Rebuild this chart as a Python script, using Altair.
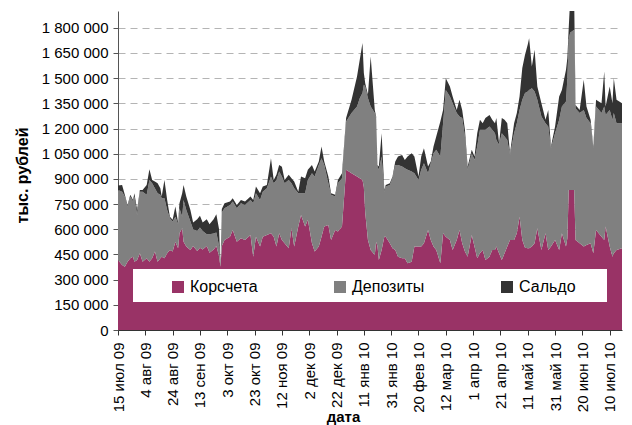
import json
import altair as alt
import pandas as pd

# ---- data (тыс. рублей) ----
dates = [
    "2009-07-15", "2009-07-18", "2009-07-20", "2009-07-22", "2009-07-24", "2009-07-26", "2009-07-27", "2009-07-29",
    "2009-07-31", "2009-08-02", "2009-08-05", "2009-08-07", "2009-08-09", "2009-08-11", "2009-08-13", "2009-08-15",
    "2009-08-16", "2009-08-18", "2009-08-20", "2009-08-22", "2009-08-24", "2009-08-26", "2009-08-28", "2009-08-29",
    "2009-08-31", "2009-09-01", "2009-09-03", "2009-09-06", "2009-09-08", "2009-09-11", "2009-09-13", "2009-09-15",
    "2009-09-18", "2009-09-20", "2009-09-23", "2009-09-25", "2009-09-27", "2009-09-28", "2009-09-29", "2009-10-01",
    "2009-10-05", "2009-10-07", "2009-10-10", "2009-10-13",
    "2009-10-16", "2009-10-20", "2009-10-22", "2009-10-24", "2009-10-27", "2009-10-29", "2009-11-01", "2009-11-04",
    "2009-11-06", "2009-11-08", "2009-11-10", "2009-11-12", "2009-11-14", "2009-11-17", "2009-11-19", "2009-11-21",
    "2009-11-24", "2009-11-26", "2009-11-29", "2009-12-01", "2009-12-04", "2009-12-06", "2009-12-09", "2009-12-11",
    "2009-12-13", "2009-12-16", "2009-12-18", "2009-12-21", "2009-12-23", "2009-12-26",
    "2009-12-29", "2010-01-02", "2010-01-06", "2010-01-08", "2010-01-10", "2010-01-11", "2010-01-12", "2010-01-14",
    "2010-01-16", "2010-01-19", "2010-01-20", "2010-01-21", "2010-01-22", "2010-01-24", "2010-01-26", "2010-01-27",
    "2010-01-30", "2010-02-01", "2010-02-03", "2010-02-05", "2010-02-08", "2010-02-10", "2010-02-12", "2010-02-15",
    "2010-02-17", "2010-02-20", "2010-02-22", "2010-02-24", "2010-02-27", "2010-03-01", "2010-03-03", "2010-03-05",
    "2010-03-08", "2010-03-10", "2010-03-12", "2010-03-15", "2010-03-17", "2010-03-20", "2010-03-22", "2010-03-24",
    "2010-03-26", "2010-03-28", "2010-03-31", "2010-04-02", "2010-04-04", "2010-04-06", "2010-04-08", "2010-04-10",
    "2010-04-13", "2010-04-15", "2010-04-17", "2010-04-18", "2010-04-20", "2010-04-22", "2010-04-24", "2010-04-26",
    "2010-04-28", "2010-05-01", "2010-05-03", "2010-05-05", "2010-05-07", "2010-05-09", "2010-05-11", "2010-05-12",
    "2010-05-14", "2010-05-16", "2010-05-18", "2010-05-21", "2010-05-24", "2010-05-26", "2010-05-28", "2010-05-31",
    "2010-06-03", "2010-06-05", "2010-06-08", "2010-06-09", "2010-06-10", "2010-06-11", "2010-06-14", "2010-06-15",
    "2010-06-18", "2010-06-21", "2010-06-23", "2010-06-26", "2010-06-28", "2010-06-30", "2010-07-04", "2010-07-06",
    "2010-07-07", "2010-07-10", "2010-07-12", "2010-07-13", "2010-07-15", "2010-07-19",
]

korscheta = [
    417000, 387000, 377000, 407000, 427000, 437000, 407000, 417000, 457000, 407000, 427000, 407000, 427000, 467000,
    407000, 427000, 437000, 427000, 457000, 477000, 467000, 526000, 487000, 576000, 606000, 526000, 497000, 477000,
    500000, 470000, 490000, 480000, 500000, 460000, 480000, 500000, 440000, 377000, 500000, 536000, 556000, 596000,
    526000, 546000,
    536000, 566000, 437000, 556000, 497000, 556000, 566000, 576000, 556000, 497000, 576000, 536000, 517000, 487000,
    606000, 497000, 616000, 685000, 616000, 656000, 517000, 467000, 497000, 556000, 616000, 626000, 536000, 596000,
    586000, 616000,
    954000, 934000, 914000, 904000, 894000, 850000, 700000, 536000, 477000, 447000, 526000, 497000, 417000, 477000,
    556000, 556000, 517000, 487000, 477000, 437000, 427000, 427000, 397000, 407000, 497000, 497000, 497000, 517000,
    596000, 536000, 497000, 477000, 397000, 576000, 556000, 536000, 477000, 536000, 596000, 517000,
    467000, 437000, 566000, 497000, 427000, 457000, 477000, 417000, 437000, 477000, 477000, 497000, 457000, 417000,
    457000, 497000, 536000, 536000, 576000, 675000, 536000, 490000, 487000, 487000, 497000, 517000, 606000, 477000,
    576000, 477000, 497000, 536000, 477000, 576000, 497000, 546000, 834000, 834000, 834000, 536000, 517000, 497000,
    507000, 517000, 457000, 596000, 556000, 536000, 616000, 497000, 437000, 457000, 477000, 487000,
]

depozity = [
    417000, 437000, 418000, 328000, 368000, 328000, 388000, 268000, 367000, 417000, 378000, 487000, 447000, 377000,
    408000, 378000, 348000, 358000, 258000, 189000, 179000, 149000, 143000, 149000, 69000, 249000, 218000, 169000,
    100000, 120000, 120000, 110000, 70000, 110000, 95000, 80000, 60000, 8000, 200000, 189000, 189000, 169000,
    199000, 209000,
    209000, 209000, 318000, 259000, 278000, 268000, 278000, 338000, 318000, 397000, 368000, 378000, 357000, 407000,
    268000, 347000, 199000, 130000, 199000, 238000, 417000, 447000, 486000, 467000, 367000, 248000, 269000, 199000,
    288000, 288000,
    288000, 358000, 417000, 477000, 517000, 610000, 750000, 845000, 854000, 845000, 736000, 477000, 537000, 556000,
    268000, 298000, 347000, 417000, 506000, 546000, 547000, 537000, 557000, 537000, 437000, 397000, 457000, 476000,
    338000, 457000, 556000, 596000, 636000, 656000, 874000, 855000, 874000, 756000, 676000, 745000,
    685000, 517000, 487000, 516000, 666000, 735000, 715000, 775000, 775000, 715000, 695000, 635000, 646000, 755000,
    695000, 635000, 507000, 636000, 656000, 636000, 835000, 921000, 933000, 943000, 943000, 903000, 765000, 795000,
    656000, 735000, 586000, 636000, 775000, 755000, 864000, 954000, 895000, 936000, 954000, 784000, 775000, 814000,
    755000, 715000, 626000, 735000, 736000, 795000, 665000, 814000, 815000, 835000, 755000, 745000,
]

saldo = [
    26000, 40000, 10000, 10000, 10000, 10000, 20000, 30000, 10000, 10000, 59000, 64000, 20000, 40000,
    59000, 39000, 10000, 109000, 60000, 9000, 10000, 60000, 10000, 30000, 140000, 89000, 80000, 69000,
    40000, 70000, 70000, 50000, 90000, 60000, 85000, 110000, 100000, 5000, 20000, 30000, 20000, 20000,
    20000, 20000,
    20000, 20000, 20000, 39000, 40000, 30000, 20000, 109000, 20000, 30000, 39000, 59000, 20000, 30000,
    30000, 40000, 9000, 99000, 89000, 60000, 49000, 30000, 20000, 70000, 20000, 40000, 10000, 10000,
    20000, 30000,
    20000, 79000, 179000, 228000, 298000, 70000, 20000, 20000, 298000, 19000, 10000, 9000, 20000, 139000,
    10000, 10000, 10000, 10000, 20000, 50000, 69000, 49000, 79000, 109000, 99000, 20000, 79000, 90000,
    40000, 10000, 40000, 79000, 209000, 79000, 70000, 59000, 40000, 19000, 99000, 49000,
    40000, 20000, 20000, 20000, 79000, 60000, 40000, 70000, 69000, 60000, 60000, 130000, 10000, 90000,
    100000, 100000, 10000, 60000, 60000, 80000, 189000, 229000, 280000, 308000, 130000, 249000, 79000, 79000,
    20000, 99000, 10000, 40000, 139000, 99000, 189000, 120000, 71000, 190000, 172000, 20000, 19000, 179000,
    69000, 20000, 10000, 40000, 59000, 209000, 50000, 139000, 99000, 208000, 139000, 119000,
]

series_names = ["Корсчета", "Депозиты", "Сальдо"]
series_colors = ["#993366", "#808080", "#333333"]

x_tick_dates = [
    "2009-07-15", "2009-08-04", "2009-08-24", "2009-09-13", "2009-10-03", "2009-10-23", "2009-11-12",
    "2009-12-02", "2009-12-22", "2010-01-11", "2010-01-31", "2010-02-20", "2010-03-12", "2010-04-01",
    "2010-04-21", "2010-05-11", "2010-05-31", "2010-06-20", "2010-07-10",
]
months_ru = ["янв", "фев", "мар", "апр", "май", "июн", "июл", "авг", "сен", "окт", "ноя", "дек"]
y_ticks = [0, 150000, 300000, 450000, 600000, 750000, 900000, 1050000, 1200000, 1350000, 1500000,
           1650000, 1800000]
x_start = "2009-07-15"
x_end = "2010-07-19"
y_max = 1900000

# ---- build long table ----
rows = []
for i, d in enumerate(dates):
    for k, vals in enumerate([korscheta, depozity, saldo]):
        rows.append({"date": pd.Timestamp(d), "series": series_names[k], "value": vals[i], "ord": k})
df = pd.DataFrame(rows)


def dt(s):
    y, m, d = (int(p) for p in s.split("-"))
    return alt.DateTime(year=y, month=m, date=d)


FONT = "Liberation Sans"
months_js = json.dumps(months_ru, ensure_ascii=False)
x_label_expr = f"date(datum.value) + ' ' + {months_js}[month(datum.value)] + ' ' + timeFormat(datum.value, '%y')"
y_label_expr = "replace(format(datum.value, ',d'), /,/g, ' ')"

area = alt.Chart(df).mark_area(interpolate="linear", clip=True).encode(
    x=alt.X(
        "date:T",
        title="дата",
        scale=alt.Scale(domain=[dt(x_start), dt(x_end)], nice=False),
        axis=alt.Axis(
            values=[dt(s) for s in x_tick_dates],
            labelExpr=x_label_expr,
            labelAngle=270,
            labelAlign="right",
            labelBaseline="middle",
            labelFont=FONT,
            labelFontSize=15,
            labelColor="black",
            labelPadding=7,
            labelOverlap=False,
            labelFlush=False,
            tickSize=5,
            tickColor="#333333",
            domainColor="#333333",
            grid=False,
            zindex=1,
            titleFont=FONT,
            titleFontSize=15,
            titleFontWeight="bold",
            titleColor="black",
            titleX=225,
            titleY=86,
            titleAlign="center",
            titleBaseline="middle",
        ),
    ),
    y=alt.Y(
        "value:Q",
        stack="zero",
        title="тыс. рублей",
        scale=alt.Scale(domain=[0, y_max], nice=False),
        axis=alt.Axis(
            values=y_ticks,
            labelExpr=y_label_expr,
            labelFont=FONT,
            labelFontSize=15,
            labelColor="black",
            labelPadding=5,
            tickSize=5,
            tickColor="#555555",
            domainColor="#555555",
            grid=True,
            gridColor="#B4B4B4",
            gridDash=[7, 5],
            gridWidth=1,
            titleFont=FONT,
            titleFontSize=16,
            titleFontWeight="bold",
            titleColor="black",
            titleAngle=270,
            titleX=-96,
            titleY=164,
            titleAlign="center",
            titleBaseline="middle",
        ),
    ),
    color=alt.Color(
        "series:N",
        scale=alt.Scale(domain=series_names, range=series_colors),
        legend=alt.Legend(
            orient="none",
            legendX=52,
            legendY=268,
            direction="horizontal",
            title=None,
            symbolType="square",
            symbolSize=144,
            symbolStrokeWidth=0,
            labelFont=FONT,
            labelFontSize=16,
            labelColor="black",
            labelOffset=4,
            columnPadding=74,
            padding=0,
            labelLimit=300,
        ),
    ),
    order=alt.Order("ord:Q", sort="ascending"),
)

legend_box = alt.Chart(pd.DataFrame({"k": [0]})).mark_rect(color="white").encode(
    x=alt.value(15), x2=alt.value(489), y=alt.value(258), y2=alt.value(291)
)

chart = alt.layer(area, legend_box).properties(
    width=504,
    height=319,
    autosize=alt.AutoSizeParams(type="none"),
    padding={"left": 110, "top": 3, "right": 2, "bottom": 95},
    background="white",
).configure_view(stroke=None)

chart.save("out.html", embed_options={"renderer": "svg", "actions": False})
